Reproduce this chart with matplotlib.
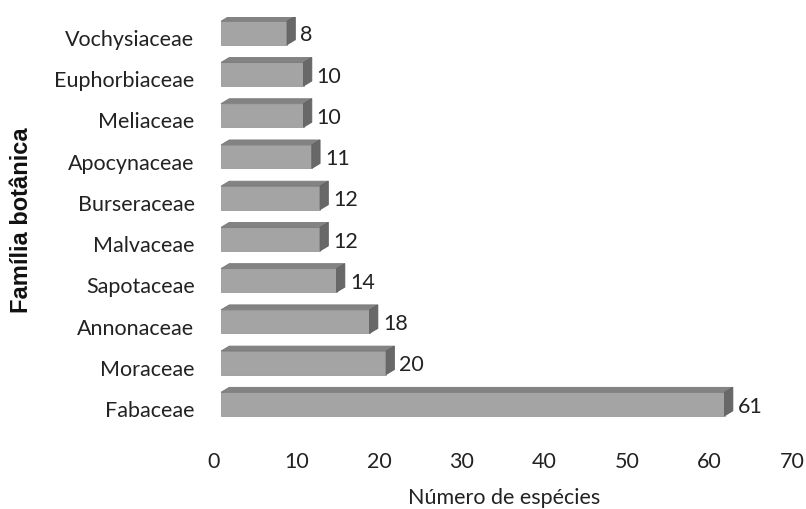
import matplotlib.pyplot as plt
from matplotlib.patches import Polygon

familias = ['Fabaceae', 'Moraceae', 'Annonaceae', 'Sapotaceae', 'Malvaceae',
            'Burseraceae', 'Apocynaceae', 'Meliaceae', 'Euphorbiaceae', 'Vochysiaceae']
especies = [61, 20, 18, 14, 12, 12, 11, 10, 10, 8]

plt.rcParams['font.family'] = ['Lato', 'DejaVu Sans']

fig = plt.figure(figsize=(8.06, 5.09), dpi=100)
ax = fig.add_axes([0.2655, 0.156, 0.717, 0.81])

x0 = 0.85     # inicio da face frontal
h = 0.57      # altura da barra
yc = 0.12     # deslocamento vertical da barra em relacao ao rotulo
dx, dy = 1.0, 0.12  # profundidade do efeito 3D
fs = 15.5

for i, v in enumerate(especies):
    y = i + yc - h / 2
    # face frontal
    ax.add_patch(Polygon([(x0, y), (x0 + v, y), (x0 + v, y + h), (x0, y + h)],
                         closed=True, facecolor='#a4a4a4', edgecolor='#9a9a9a', lw=0.6))
    # topo
    ax.add_patch(Polygon([(x0, y + h), (x0 + v, y + h), (x0 + v + dx, y + h + dy), (x0 + dx, y + h + dy)],
                         closed=True, facecolor='#838383', edgecolor='#7a7a7a', lw=0.6))
    # lateral
    ax.add_patch(Polygon([(x0 + v, y), (x0 + v + dx, y + dy), (x0 + v + dx, y + h + dy), (x0 + v, y + h)],
                         closed=True, facecolor='#686868', edgecolor='#606060', lw=0.6))
    ax.text(x0 + v + dx + 0.6, i + yc - 0.06, str(v), ha='left', va='center', fontsize=fs, color='#222222')

ax.set_xlim(0, 70)
ax.set_ylim(-0.5, 9.5)
ax.set_xticks(range(0, 71, 10))
ax.set_yticks(range(len(familias)))
ax.set_yticklabels(familias)
ax.tick_params(axis='both', length=0, labelsize=fs, labelcolor='#222222')
ax.tick_params(axis='x', pad=16)
ax.tick_params(axis='y', pad=14)
for s in ax.spines.values():
    s.set_visible(False)

fig.text(0.625, 0.022, 'Número de espécies', ha='center', va='center',
         fontsize=fs, color='#222222')
fig.text(0.027, 0.568, 'Família botânica', rotation=90, ha='center', va='center',
         fontsize=17, fontweight='bold', color='#111111', family='Liberation Sans')

fig.savefig('out.png', dpi=100)
